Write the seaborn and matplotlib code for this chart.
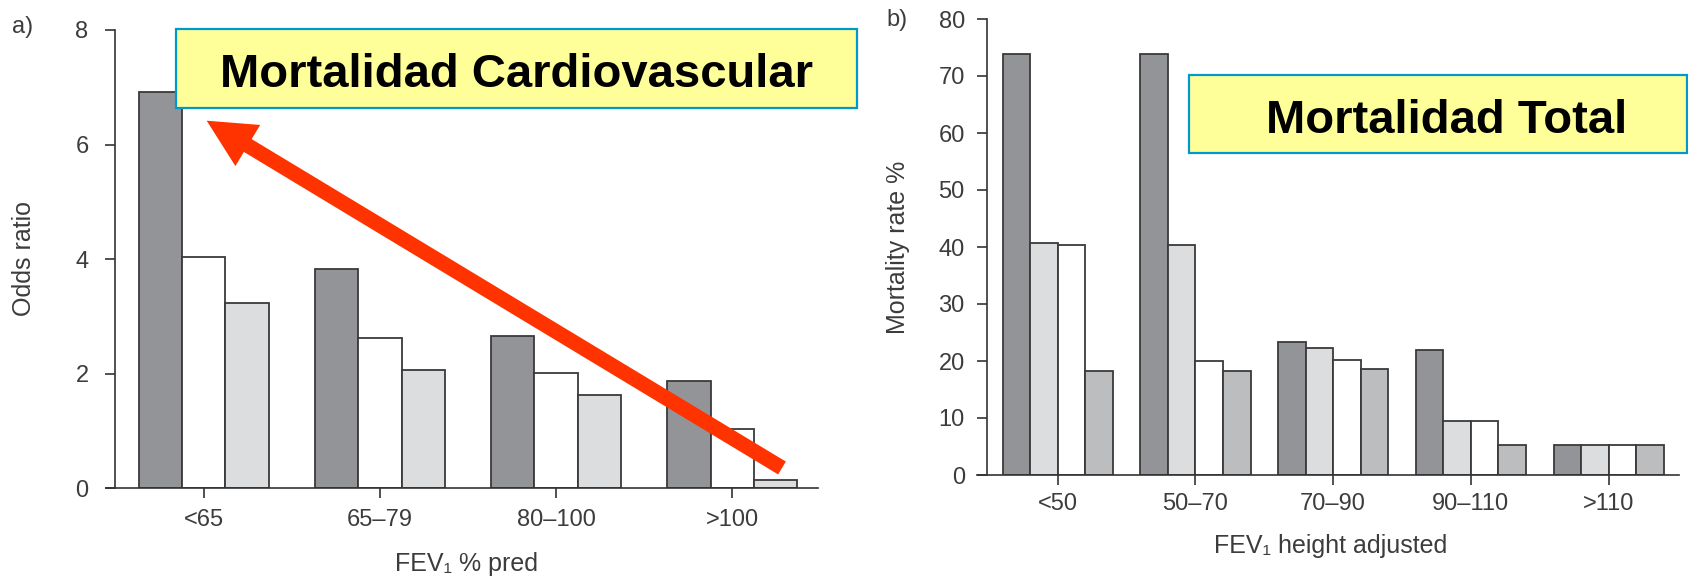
import numpy as np
import pandas as pd
import matplotlib
matplotlib.use("Agg")
import matplotlib.pyplot as plt
import seaborn as sns
from matplotlib.patches import FancyArrow, Rectangle
from matplotlib.transforms import IdentityTransform

# ---------------- data ----------------
cats_a = ["<65", "65–79", "80–100", ">100"]
a_s1 = [6.92, 3.83, 2.66, 1.87]
a_s2 = [4.03, 2.63, 2.01, 1.04]
a_s3 = [3.24, 2.06, 1.62, 0.14]

cats_b = ["<50", "50–70", "70–90", "90–110", ">110"]
b_s1 = [73.9, 73.9, 23.4, 21.9, 5.2]
b_s2 = [40.7, 40.4, 22.3, 9.4, 5.2]
b_s3 = [40.4, 20.0, 20.2, 9.4, 5.2]
b_s4 = [18.3, 18.3, 18.6, 5.2, 5.2]

series_a = ["Serie 1", "Serie 2", "Serie 3"]
series_b = ["Serie 1", "Serie 2", "Serie 3", "Serie 4"]
colors_a = ["#939498", "#ffffff", "#dcdddf"]
colors_b = ["#939498", "#dcdddf", "#ffffff", "#bcbdbf"]

dfA = pd.DataFrame({
    "FEV1": cats_a * 3,
    "valor": a_s1 + a_s2 + a_s3,
    "serie": [s for s in series_a for _ in cats_a],
})
dfB = pd.DataFrame({
    "FEV1": cats_b * 4,
    "valor": b_s1 + b_s2 + b_s3 + b_s4,
    "serie": [s for s in series_b for _ in cats_b],
})

# ---------------- style ----------------
sns.set_theme(style="white")
plt.rcParams["font.family"] = ["Liberation Sans", "DejaVu Sans"]

W, H = 1688, 577
fig = plt.figure(figsize=(W / 100, H / 100), dpi=100)


def px_axes(l, r, top, bottom):
    return [l / W, 1 - bottom / H, (r - l) / W, (bottom - top) / H]


axA = fig.add_axes(px_axes(105.7, 818.3, 30, 488.3))
axB = fig.add_axes(px_axes(976.7, 1679.3, 19, 475))

edge = "#3a3a3a"
sns.barplot(data=dfA, x="FEV1", y="valor", hue="serie", order=cats_a,
            hue_order=series_a, palette=colors_a, saturation=1, width=0.738,
            gap=0, errorbar=None, edgecolor=edge, linewidth=1.3,
            legend=False, ax=axA)
sns.barplot(data=dfB, x="FEV1", y="valor", hue="serie", order=cats_b,
            hue_order=series_b, palette=colors_b, saturation=1, width=0.80,
            gap=0, errorbar=None, edgecolor=edge, linewidth=1.3,
            legend=False, ax=axB)

txt = "#3c3c3c"


def style(ax, xlim, spine_x, ylim, yticks, ypad, xpad):
    ax.set_xlim(*xlim)
    ax.set_ylim(*ylim)
    ax.set_yticks(yticks)
    for s in ["top", "right"]:
        ax.spines[s].set_visible(False)
    ax.spines["left"].set_position(("data", spine_x))
    ax.spines["left"].set_bounds(ylim[0], ylim[1])
    for s in ["left", "bottom"]:
        ax.spines[s].set_color("#333333")
        ax.spines[s].set_linewidth(1.2)
    ax.tick_params(axis="both", direction="out", length=7.2, width=1.2,
                   color="#333333", labelsize=17, labelcolor=txt,
                   left=True, bottom=True)
    ax.tick_params(axis="y", pad=ypad)
    ax.tick_params(axis="x", pad=xpad)
    ax.grid(False)


style(axA, (-0.556, 3.488), -0.502, (0, 8), [0, 2, 4, 6, 8], 12, 8)
style(axB, (-0.588, 4.513), -0.511, (0, 80), list(range(0, 81, 10)), 9, 6)

axA.set_xlabel("FEV₁ % pred", fontsize=18, color=txt, va="center")
axA.xaxis.set_label_coords(0.506, -0.165)
axA.set_ylabel("Odds ratio", fontsize=18, color=txt, va="center")
axA.yaxis.set_label_coords(-0.1147, 0.5025)

axB.set_xlabel("FEV₁ height adjusted", fontsize=18, color=txt, va="center")
axB.xaxis.set_label_coords(0.504, -0.155)
axB.set_ylabel("Mortality rate %", fontsize=18, color=txt, va="center")
axB.yaxis.set_label_coords(-0.112, 0.5)

fig.text(23 / W, 1 - 27 / H, "a)", fontsize=17, color=txt, ha="center", va="center")
fig.text(897 / W, 1 - 20 / H, "b)", fontsize=17, color=txt, ha="center", va="center")

# ---------------- annotations (boxes + arrow) in pixel coordinates ----------------
ident = IdentityTransform()


def add_box(l, r, top, bottom):
    rect = Rectangle((l, H - bottom), r - l, bottom - top, transform=ident,
                     facecolor="#ffff99", edgecolor="#0099cc", linewidth=1.6,
                     zorder=5)
    fig.patches.append(rect)


add_box(175.7, 856.7, 29.3, 108.3)
add_box(1188.5, 1686.5, 75, 153)
fig.text(517 / W, 1 - 87 / H, "Mortalidad Cardiovascular", fontsize=34,
         fontweight="bold", color="black", ha="center", va="baseline", zorder=6)
fig.text(1446.5 / W, 1 - 132.5 / H, "Mortalidad Total", fontsize=34,
         fontweight="bold", color="black", ha="center", va="baseline", zorder=6)

tail = (782.0, H - 468.0)
tip = (206.7, H - 120.7)
arrow = FancyArrow(tail[0], tail[1], tip[0] - tail[0], tip[1] - tail[1],
                   width=15, head_width=48, head_length=48,
                   length_includes_head=True, transform=ident,
                   facecolor="#ff3300", edgecolor="none", zorder=5)
fig.patches.append(arrow)

fig.savefig("out.png", dpi=100)
